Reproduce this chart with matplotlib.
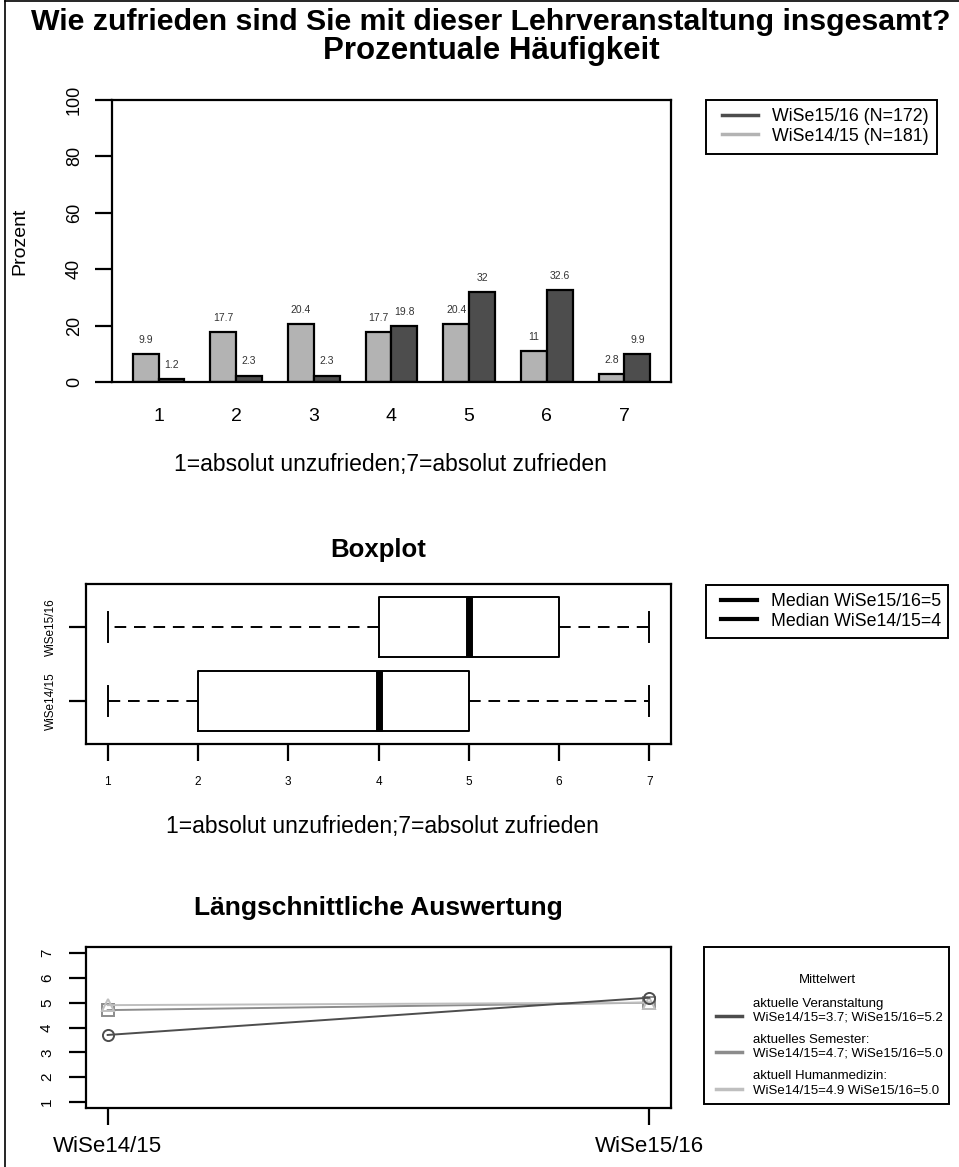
import numpy as np
import matplotlib
matplotlib.use("Agg")
import matplotlib.pyplot as plt
from matplotlib.lines import Line2D
from matplotlib.patches import Rectangle

plt.rcParams["font.family"] = ["Liberation Sans", "DejaVu Sans"]

# Prozentuale Haeufigkeit je Antwortstufe
scale_points = [1, 2, 3, 4, 5, 6, 7]
pct_ws1415 = [9.9, 17.7, 20.4, 17.7, 20.4, 11.0, 2.8]
pct_ws1516 = [1.2, 2.3, 2.3, 19.8, 32.0, 32.6, 9.9]
pct_labels_1415 = ["9.9", "17.7", "20.4", "17.7", "20.4", "11", "2.8"]
pct_labels_1516 = ["1.2", "2.3", "2.3", "19.8", "32", "32.6", "9.9"]
legend_bars = ["WiSe15/16 (N=172)", "WiSe14/15 (N=181)"]

# Boxplot-Kennwerte (min, q1, median, q3, max)
box_names = ["WiSe14/15", "WiSe15/16"]
box_ws1415 = [1, 2, 4, 5, 7]
box_ws1516 = [1, 4, 5, 6, 7]
legend_box = ["Median WiSe15/16=5", "Median WiSe14/15=4"]

# Laengsschnitt (Mittelwerte)
semesters = ["WiSe14/15", "WiSe15/16"]
mean_veranstaltung = [3.7, 5.2]
mean_semester = [4.7, 5.0]
mean_human = [4.9, 5.0]
legend_heads = ["aktuelle Veranstaltung", "aktuelles Semester:", "aktuell Humanmedizin:"]
legend_means = [
    "WiSe14/15=3.7; WiSe15/16=5.2",
    "WiSe14/15=4.7; WiSe15/16=5.0",
    "WiSe14/15=4.9 WiSe15/16=5.0",
]

DARK = "#4d4d4d"
MID = "#8c8c8c"
LIGHT = "#b3b3b3"
LIGHT2 = "#bfbfbf"

W, H = 959, 1167
fig = plt.figure(figsize=(W / 100, H / 100), dpi=100)


def box(left, top, right, bottom):
    return [left / W, 1 - bottom / H, (right - left) / W, (bottom - top) / H]


def fx(x):
    return x / W


def fy(y):
    return 1 - y / H


def frame(left, top, right, bottom):
    fig.add_artist(Rectangle((fx(left), fy(bottom)), (right - left) / W, (bottom - top) / H,
                             transform=fig.transFigure, fill=False, ec="black", lw=1.4))


def legend(handles, labels, x, y, size, spacing):
    fig.legend(handles, labels, loc="upper left", bbox_to_anchor=(fx(x), fy(y)),
               fontsize=size, frameon=False, handlelength=2.0, handletextpad=0.8,
               borderpad=0, borderaxespad=0, labelspacing=spacing)


# figure frame (left and top edge)
fig.add_artist(Line2D([fx(5), fx(5)], [0, fy(1)], color="black", lw=1.2))
fig.add_artist(Line2D([fx(5), 1], [fy(1), fy(1)], color="black", lw=1.2))

fig.text(fx(491), fy(22), "Wie zufrieden sind Sie mit dieser Lehrveranstaltung insgesamt?",
         ha="center", va="center", fontsize=21.8, fontweight="bold")
fig.text(fx(491), fy(51), "Prozentuale Häufigkeit",
         ha="center", va="center", fontsize=22.5, fontweight="bold")

# ---- Balkendiagramm ----
ax1 = fig.add_axes(box(112, 100, 671, 382))
centers = np.arange(len(scale_points)) * 3 + 2
ax1.bar(centers - 0.5, pct_ws1415, width=1, color=LIGHT, edgecolor="black", lw=1.6)
ax1.bar(centers + 0.5, pct_ws1516, width=1, color=DARK, edgecolor="black", lw=1.6)
for c, v, s in zip(centers, pct_ws1415, pct_labels_1415):
    ax1.text(c - 0.5, v + 5, s, ha="center", va="center", fontsize=7.5, color="#333333")
for c, v, s in zip(centers, pct_ws1516, pct_labels_1516):
    ax1.text(c + 0.5, v + 5, s, ha="center", va="center", fontsize=7.5, color="#333333")
ax1.set_xlim(0.2, 21.8)
ax1.set_ylim(0, 100)
ax1.set_yticks([0, 20, 40, 60, 80, 100])
ax1.set_yticklabels(["0", "20", "40", "60", "80", "100"], rotation=90, va="center", fontsize=13)
ax1.set_xticks(centers)
ax1.set_xticklabels([str(p) for p in scale_points], fontsize=14)
ax1.tick_params(axis="x", length=0, pad=19)
ax1.tick_params(axis="y", length=12, width=1.6, pad=9)
for sp in ax1.spines.values():
    sp.set_linewidth(1.6)
fig.text(fx(20), fy(241), "Prozent", rotation=90, ha="center", va="center", fontsize=14)
fig.text(fx(390), fy(464), "1=absolut unzufrieden;7=absolut zufrieden",
         ha="center", va="center", fontsize=16.5)
frame(706, 100, 937, 154)
h1 = [Line2D([], [], color=DARK, lw=2.5), Line2D([], [], color=LIGHT, lw=2.5)]
legend(h1, legend_bars, 722, 108, 12.8, 0.15)

# ---- Boxplot ----
fig.text(fx(378), fy(550), "Boxplot", ha="center", va="center", fontsize=18.5, fontweight="bold")
ax2 = fig.add_axes(box(86, 584, 671, 744))
stats = []
for name, s in zip(box_names, [box_ws1415, box_ws1516]):
    stats.append(dict(label=name, whislo=s[0], q1=s[1], med=s[2], q3=s[3], whishi=s[4], fliers=[]))
ax2.bxp(stats, positions=[1, 2], widths=0.8, vert=False, showfliers=False,
        boxprops=dict(color="black", lw=1.4),
        medianprops=dict(color="black", lw=5, solid_capstyle="butt"),
        whiskerprops=dict(color="black", lw=1.4, linestyle=(0, (6, 4))),
        capprops=dict(color="black", lw=1.4), capwidths=0.4)
ax2.set_xlim(0.76, 7.24)
ax2.set_ylim(0.42, 2.58)
ax2.set_xticks(scale_points)
ax2.set_xticklabels([str(p) for p in scale_points], fontsize=8.5)
ax2.set_yticks([1, 2])
ax2.set_yticklabels(box_names, rotation=90, va="center", fontsize=8.5)
ax2.tick_params(axis="both", length=12, width=1.6, pad=11)
ax2.tick_params(axis="y", pad=9)
for sp in ax2.spines.values():
    sp.set_linewidth(1.6)
fig.text(fx(382), fy(826), "1=absolut unzufrieden;7=absolut zufrieden",
         ha="center", va="center", fontsize=16.5)
frame(706, 585, 948, 638)
h2 = [Line2D([], [], color="black", lw=3), Line2D([], [], color="black", lw=3)]
legend(h2, legend_box, 721, 593, 12.8, 0.15)

# ---- Laengsschnitt ----
fig.text(fx(378), fy(908), "Längschnittliche Auswertung", ha="center", va="center",
         fontsize=19, fontweight="bold")
ax3 = fig.add_axes(box(86, 947, 671, 1108))
xs = np.arange(1, len(semesters) + 1)
ax3.plot(xs, mean_semester, color=MID, lw=1.4, marker="s", ms=8, mfc="none", mew=1.4)
ax3.plot(xs, mean_human, color=LIGHT2, lw=1.4, marker="^", ms=9, mfc="none", mew=1.4)
ax3.plot(xs, mean_veranstaltung, color=DARK, lw=1.4, marker="o", ms=8, mfc="none", mew=1.4)
ax3.set_xlim(0.96, 2.04)
ax3.set_ylim(0.76, 7.24)
ax3.set_yticks(range(1, 8))
ax3.set_yticklabels([str(i) for i in range(1, 8)], rotation=90, va="center", fontsize=11)
ax3.set_xticks(xs)
ax3.set_xticklabels(semesters, fontsize=16)
ax3.tick_params(axis="both", length=12, width=1.6, pad=8)
ax3.tick_params(axis="y", pad=11)
for sp in ax3.spines.values():
    sp.set_linewidth(1.6)
frame(704, 947, 949, 1104)
fig.text(fx(827), fy(980), "Mittelwert", ha="center", va="center", fontsize=9.5)
for head, yy in zip(legend_heads, [1004, 1040, 1076]):
    fig.text(fx(753), fy(yy), head, ha="left", va="center", fontsize=9.5)
h3 = [Line2D([], [], color=DARK, lw=2.5), Line2D([], [], color=MID, lw=2.5),
      Line2D([], [], color=LIGHT2, lw=2.5)]
legend(h3, legend_means, 716, 1011, 9.5, 1.85)

fig.savefig("out.png", dpi=100)
